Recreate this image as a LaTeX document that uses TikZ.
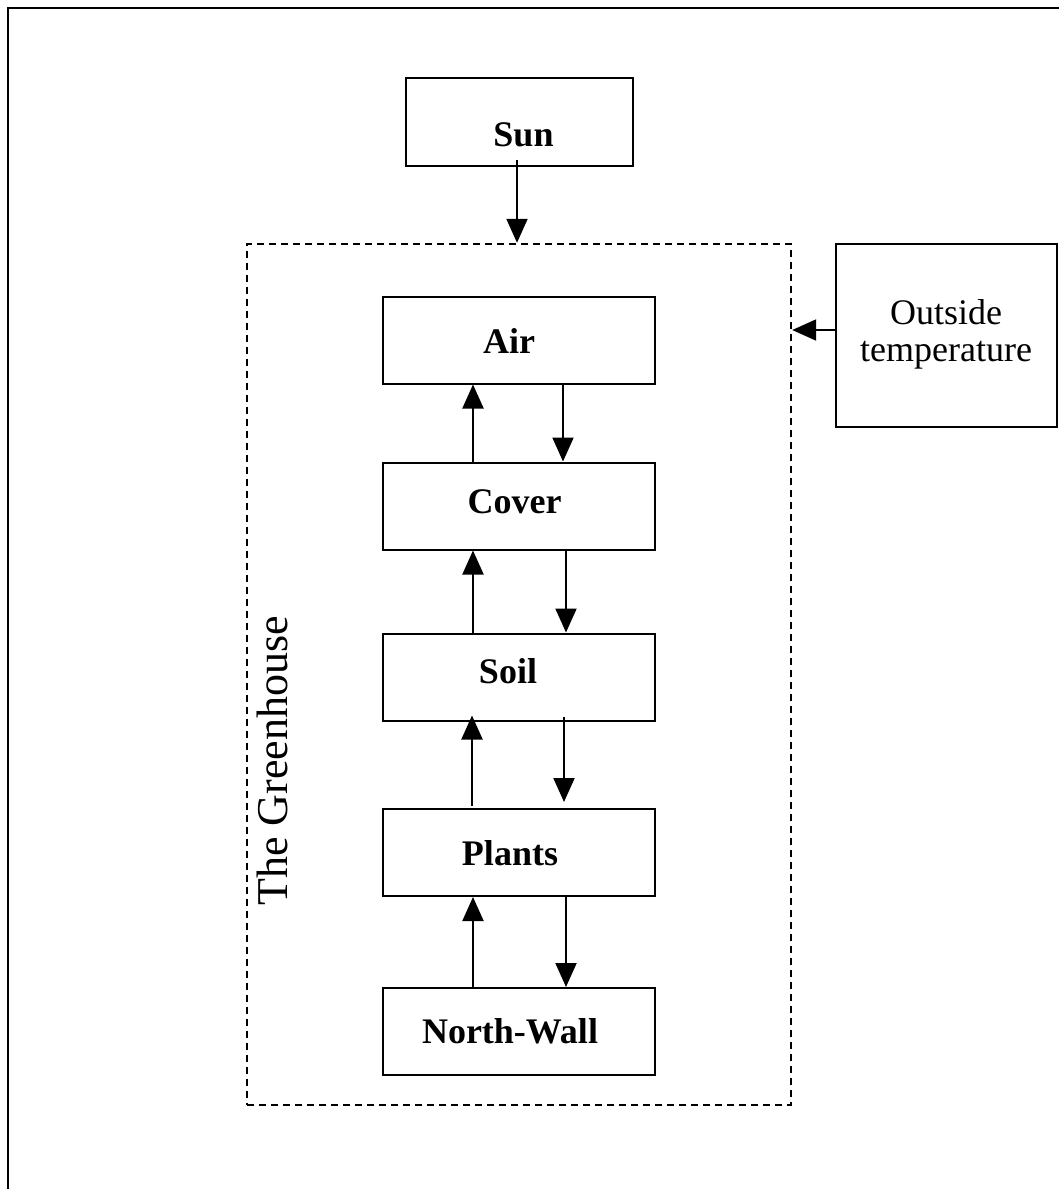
\documentclass[tikz,border=0pt]{standalone}
\usepackage{fontspec}
\setmainfont{Liberation Serif}
\usetikzlibrary{arrows.meta}
\begin{document}
\begin{tikzpicture}[x=1pt,y=-1pt,
  box/.style={draw,line width=2pt,rectangle,inner sep=0pt},
  layer/.style={box,minimum width=272pt,minimum height=87pt},
  lbl/.style={anchor=base,inner sep=0pt,font=\fontsize{36}{40}\selectfont\bfseries},
  flow/.style={line width=2pt,-{Triangle[width=21pt,length=24pt]}},
  zone/.style={draw,line width=2.4pt,dash pattern=on 7pt off 5pt,rectangle,inner sep=0pt,
    minimum width=544pt,minimum height=861pt}]
\useasboundingbox (0,0) rectangle (1059,1189);
% page frame, open to the right and bottom
\draw[line width=2.4pt] (8,1200) -- (8,8) -- (1070,8);

% greenhouse boundary
\node[zone] (gh) at (519,674.5) {};
\node[anchor=base west,inner sep=0pt,rotate=90,font=\fontsize{44}{50}\selectfont]
  (ghtxt) at (287,906) {The Greenhouse};

% external drivers
\node[box,minimum width=227pt,minimum height=88pt] (sun) at (519.5,122) {};
\node[lbl] (suntxt) at (523.5,146) {Sun};
\node[box,minimum width=221pt,minimum height=183pt] (outside) at (946.5,335.5) {};
\node[anchor=base,inner sep=0pt,font=\fontsize{36}{40}\selectfont] (outtxt1) at (946,324) {Outside};
\node[anchor=base,inner sep=0pt,font=\fontsize{36}{40}\selectfont] (outtxt2) at (946,361) {temperature};

% layers
\node[layer] (air)   at (519,340)   {};
\node[layer] (cover) at (519,506)   {};
\node[layer] (soil)  at (519,677)   {};
\node[layer] (plants)at (519,852.5) {};
\node[layer] (wall)  at (519,1031.5){};
\node[lbl] (airtxt)   at (509,353)  {Air};
\node[lbl] (covertxt) at (514.5,513){Cover};
\node[lbl] (soiltxt)  at (508,683)  {Soil};
\node[lbl] (planttxt) at (510,865)  {Plants};
\node[lbl] (walltxt)  at (510,1043) {North-Wall};

% inputs
\coordinate (s) at ([xshift=-2.5pt,yshift=7pt]sun.south);
\draw[flow] (s) -- (s |- gh.north);
\coordinate (o) at ([yshift=5.5pt]outside.west);
\draw[flow] (o) -- (o -| gh.east);

% exchanges between layers
\draw[flow] ([xshift=-46pt]cover.north) -- ([xshift=-46pt]air.south);
\draw[flow] ([xshift=44pt]air.south) -- ([xshift=44pt]cover.north);
\draw[flow] ([xshift=-46pt]soil.north) -- ([xshift=-46pt]cover.south);
\draw[flow] ([xshift=47pt]cover.south) -- ([xshift=47pt]soil.north);
\draw[flow] ([xshift=-47pt,yshift=2pt]plants.north) -- ([xshift=-47pt,yshift=6pt]soil.south);
\draw[flow] ([xshift=45pt,yshift=5pt]soil.south) -- ([xshift=45pt,yshift=6pt]plants.north);
\draw[flow] ([xshift=-46pt]wall.north) -- ([xshift=-46pt]plants.south);
\draw[flow] ([xshift=47pt]plants.south) -- ([xshift=47pt]wall.north);
\end{tikzpicture}
\end{document}
